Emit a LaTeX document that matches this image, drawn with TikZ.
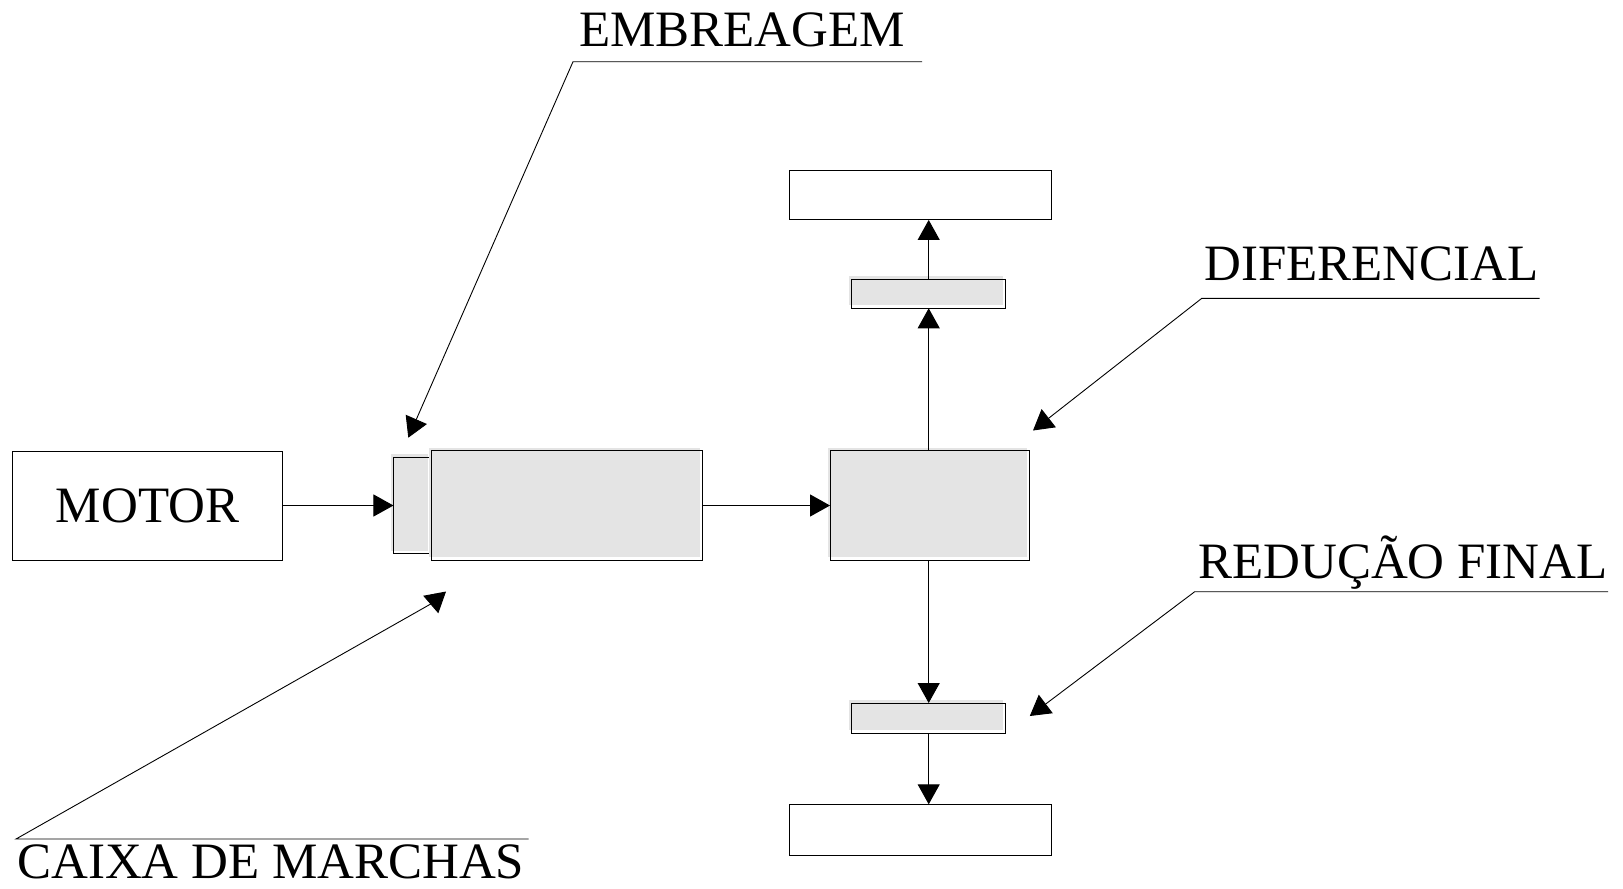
\documentclass[tikz,border=0pt]{standalone}
\usepackage{fontspec}
\setmainfont{Liberation Serif}
\usepackage{tikz}
\usetikzlibrary{arrows.meta}
\usetikzlibrary{shadows}
\usetikzlibrary{calc}
\definecolor{boxgray}{RGB}{228,228,228}
\tikzset{
  block/.style={draw=black, line width=1pt, inner sep=0pt, outer sep=0pt},
  gearblock/.style={block, general shadow={fill=boxgray, shadow xshift=-2.5pt, shadow yshift=3pt}},
  flow/.style={line width=1pt, -{Triangle[length=20pt,width=22pt]}},
  leader/.style={line width=0.9pt, -{Triangle[length=20pt,width=23pt]}},
  labeltext/.style={inner sep=0pt, anchor=base west, font=\fontsize{51}{60}\selectfont}
}

\begin{document}
\begin{tikzpicture}[x=1pt, y=-1pt]
  \useasboundingbox (0,0) rectangle (1623,889);
  % blocos da transmissao
  \node[block, minimum width=270pt, minimum height=109pt, font=\fontsize{51}{60}\selectfont] (motor) at (147.6,505.5) {MOTOR};
  \node[gearblock, minimum width=37.5pt, minimum height=96.5pt] (embr) at (412.2,505.5) {};
  \node[gearblock, minimum width=271pt, minimum height=109.3pt] (caixabox) at (567,505.5) {};
  \node[gearblock, minimum width=199.3pt, minimum height=109.3pt] (dif) at (929.7,505.5) {};
  \node[gearblock, minimum width=154pt, minimum height=29pt] (redcima) at (928.7,293.8) {};
  \node[gearblock, minimum width=154pt, minimum height=30pt] (redbaixo) at (928.7,718) {};
  \node[block, minimum width=262pt, minimum height=49.3pt] (rodacima) at (920,195.3) {};
  \node[block, minimum width=261.7pt, minimum height=51pt] (rodabaixo) at (920.2,829.8) {};

  % fluxo de potencia
  \draw[flow] (motor) -- (embr);
  \draw[flow] (caixabox) -- (dif);
  \draw[flow] (dif.north -| redcima) -- (redcima.south);
  \draw[flow] (redcima.north) -- (redcima.north |- rodacima.south);
  \draw[flow] (dif.south -| redbaixo) -- (redbaixo.north);
  \draw[flow] (redbaixo.south) -- (redbaixo.south |- rodabaixo.north);

  % legendas
  \node[labeltext] (embreagem) at (579,46) {EMBREAGEM};
  \node[labeltext] (diferencial) at (1204,280) {DIFERENCIAL};
  \node[labeltext] (reducao) at (1198,578) {REDUÇÃO FINAL};
  \node[labeltext] (caixa) at (17,878) {CAIXA DE MARCHAS};

  \coordinate (emb-r) at (922,61.7);
  \coordinate (emb-l) at (573,61.7);
  \coordinate (emb-tip) at (408.3,437.7);
  \coordinate (dif-r) at (1539.5,298.3);
  \coordinate (dif-l) at (1201.8,298.3);
  \coordinate (dif-tip) at (1033,430.5);
  \coordinate (red-r) at (1608,591.7);
  \coordinate (red-l) at (1194.7,591.7);
  \coordinate (red-tip) at (1029.8,716);
  \coordinate (cx-r) at (528.6,839);
  \coordinate (cx-l) at (16,839);
  \coordinate (cx-bend) at (436,601);
  \coordinate (cx-tip) at (438.3,613.3);

  \draw[leader] (emb-r) -- (emb-l) -- (emb-tip);
  \draw[leader] (dif-r) -- (dif-l) -- (dif-tip);
  \draw[leader] (red-r) -- (red-l) -- (red-tip);
  \draw[leader] (cx-r) -- (cx-l) -- (cx-bend) -- (cx-tip);
\end{tikzpicture}
\end{document}
